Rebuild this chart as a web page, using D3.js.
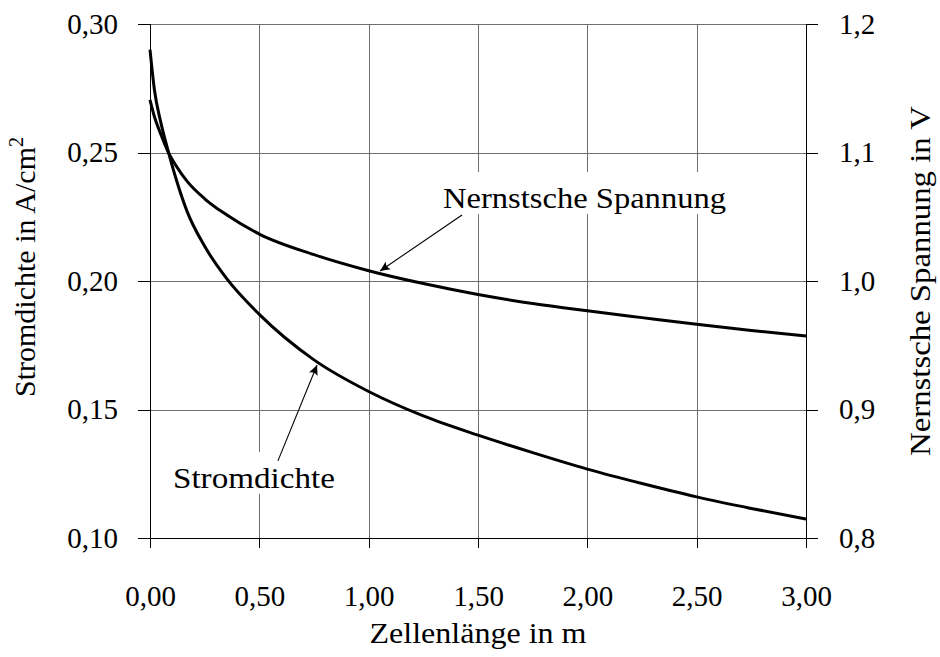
<!DOCTYPE html>
<html>
<head>
<meta charset="utf-8">
<script src="https://cdn.jsdelivr.net/npm/d3@7"></script>
<style>
  html, body { margin: 0; padding: 0; background: #fff; }
  svg { display: block; }
</style>
</head>
<body>
<svg id="chart" width="940" height="657"></svg>
<script>
// ---- data ----
const cellLength     = [0,     0.02,   0.05,   0.08,   0.12,   0.17,   0.25,   0.35,   0.5,    0.75,   1.0,    1.25,   1.5,    1.75,   2.0,    2.25,   2.5,    2.75,   3.0];
const currentDensity = [0.290, 0.2745, 0.2615, 0.2515, 0.2395, 0.2270, 0.2135, 0.2010, 0.1870, 0.1693, 0.1570, 0.1475, 0.1400, 0.1332, 0.1268, 0.1212, 0.1160, 0.1115, 0.1074];
const nernstVoltage  = [1.141, 1.128,  1.114,  1.1015, 1.0895, 1.0775, 1.064,  1.0515, 1.0365, 1.0205, 1.008,  0.998,  0.9895, 0.9825, 0.9768, 0.9715, 0.9663, 0.9615, 0.9572];
const xTicks = [0, 0.5, 1.0, 1.5, 2.0, 2.5, 3.0];
const yLeftTicks = [0.10, 0.15, 0.20, 0.25, 0.30];
const yRightTicks = [0.8, 0.9, 1.0, 1.1, 1.2];
const xTitle = "Zellenlänge in m";
const yLeftTitle = "Stromdichte in A/cm";
const yLeftTitleSup = "2";
const yRightTitle = "Nernstsche Spannung in V";
// annotations: label anchor, arrow start and arrow tip in data units
const annotations = [
  { text: "Nernstsche Spannung", axis: "right", tx: 1.34, ty: 1.0568, sx: 1.427, sy: 1.0514, px: 1.052, py: 1.0078 },
  { text: "Stromdichte", axis: "left", tx: 0.105, ty: 0.1195, sx: 0.585, sy: 0.1300, px: 0.764, py: 0.1673 }
];

// ---- layout ----
const FONT = "'Liberation Serif', 'Times New Roman', 'DejaVu Serif', serif";
const svg = d3.select("#chart");
const L = 150, R = 806, T = 24, B = 538;
const x = d3.scaleLinear().domain([0, 3]).range([L, R]);
const yL = d3.scaleLinear().domain([0.10, 0.30]).range([B, T]);
const yR = d3.scaleLinear().domain([0.8, 1.2]).range([B, T]);
const fmt2 = v => d3.format(".2f")(v).replace(".", ",");
const fmt1 = v => d3.format(".1f")(v).replace(".", ",");
const px = v => Math.round(v) + 0.5;

// grid
const grid = svg.append("g").attr("stroke", "#6e6e6e").attr("stroke-width", 1).attr("shape-rendering", "crispEdges");
grid.selectAll("line.v").data(xTicks).join("line")
  .attr("x1", d => px(x(d))).attr("x2", d => px(x(d))).attr("y1", T).attr("y2", B);
grid.selectAll("line.h").data(yLeftTicks).join("line")
  .attr("y1", d => px(yL(d))).attr("y2", d => px(yL(d))).attr("x1", L).attr("x2", R);

// axes
const axL = d3.axisLeft(yL).tickValues(yLeftTicks).tickFormat(fmt2).tickSize(12).tickPadding(20);
const axR = d3.axisRight(yR).tickValues(yRightTicks).tickFormat(fmt1).tickSize(12).tickPadding(21);
const axB = d3.axisBottom(x).tickValues(xTicks).tickFormat(fmt2).tickSize(10).tickPadding(37);

function styleAxis(g) {
  g.attr("font-family", null).attr("font-size", null);
  g.select(".domain").remove();
  g.selectAll(".tick line").attr("stroke", "#000").attr("shape-rendering", "crispEdges");
  g.selectAll(".tick text").attr("font-family", FONT).style("font-family", FONT)
    .style("font-size", "29px").attr("fill", "#000");
}
svg.append("g").attr("transform", `translate(${L},0)`).call(axL).call(styleAxis);
svg.append("g").attr("transform", `translate(${R},0)`).call(axR).call(styleAxis);
svg.append("g").attr("transform", `translate(0,${B})`).call(axB).call(styleAxis);

// axis lines
const axisLines = svg.append("g").attr("stroke", "#000").attr("stroke-width", 1).attr("shape-rendering", "crispEdges");
axisLines.append("line").attr("x1", px(L)).attr("x2", px(L)).attr("y1", T).attr("y2", B + 10);
axisLines.append("line").attr("x1", px(R)).attr("x2", px(R)).attr("y1", T).attr("y2", B + 10);
axisLines.append("line").attr("x1", L - 12).attr("x2", R + 12).attr("y1", px(B)).attr("y2", px(B));

// annotations (white boxes, arrows, labels)
annotations.forEach(a => {
  const ys = a.axis === "right" ? yR : yL;
  const g = svg.append("g");
  const t = g.append("text").attr("x", x(a.tx)).attr("y", ys(a.ty))
    .attr("font-family", FONT).style("font-family", FONT).style("font-size", "29px").attr("fill", "#000")
    .attr("textLength", a.axis === "right" ? 283 : 162).attr("lengthAdjust", "spacingAndGlyphs")
    .text(a.text);
  const bb = t.node().getBBox();
  g.insert("rect", "text").attr("x", bb.x - 6).attr("y", bb.y - 10).attr("width", bb.width + 12).attr("height", bb.height + 10).attr("fill", "#fff");
  const x1 = x(a.sx), y1 = ys(a.sy), x2 = x(a.px), y2 = ys(a.py);
  g.append("line").attr("x1", x1).attr("y1", y1).attr("x2", x2).attr("y2", y2).attr("stroke", "#000").attr("stroke-width", 1.1);
  const ang = Math.atan2(y2 - y1, x2 - x1) * 180 / Math.PI;
  g.append("path").attr("d", "M0,0 L-10,-4.6 Q-6.5,0 -10,4.6 Z").attr("fill", "#000")
    .attr("transform", `translate(${x2},${y2}) rotate(${ang})`);
});

// curves
const line = d3.line().curve(d3.curveMonotoneX);
svg.append("path")
  .attr("d", line(cellLength.map((c, i) => [x(c), yL(currentDensity[i])])))
  .attr("fill", "none").attr("stroke", "#000").attr("stroke-width", 3).attr("stroke-linejoin", "round");
svg.append("path")
  .attr("d", line(cellLength.map((c, i) => [x(c), yR(nernstVoltage[i])])))
  .attr("fill", "none").attr("stroke", "#000").attr("stroke-width", 3).attr("stroke-linejoin", "round");

// axis titles
svg.append("text").attr("x", (L + R) / 2).attr("y", 643).attr("text-anchor", "middle")
  .attr("font-family", FONT).style("font-family", FONT).style("font-size", "29px").attr("fill", "#000")
  .attr("textLength", 217).attr("lengthAdjust", "spacingAndGlyphs").text(xTitle);

const lt = svg.append("text").attr("transform", `translate(35,${(T + B) / 2 - 14}) rotate(-90)`)
  .attr("text-anchor", "middle").attr("font-family", FONT).style("font-family", FONT)
  .style("font-size", "30px").attr("fill", "#000");
lt.append("tspan").text(yLeftTitle);
lt.append("tspan").attr("dy", -12).style("font-size", "20px").text(yLeftTitleSup);

svg.append("text").attr("transform", `translate(930,${(T + B) / 2}) rotate(-90)`)
  .attr("text-anchor", "middle").attr("font-family", FONT).style("font-family", FONT)
  .style("font-size", "29px").attr("fill", "#000")
  .attr("textLength", 350).attr("lengthAdjust", "spacingAndGlyphs").text(yRightTitle);
</script>
</body>
</html>
